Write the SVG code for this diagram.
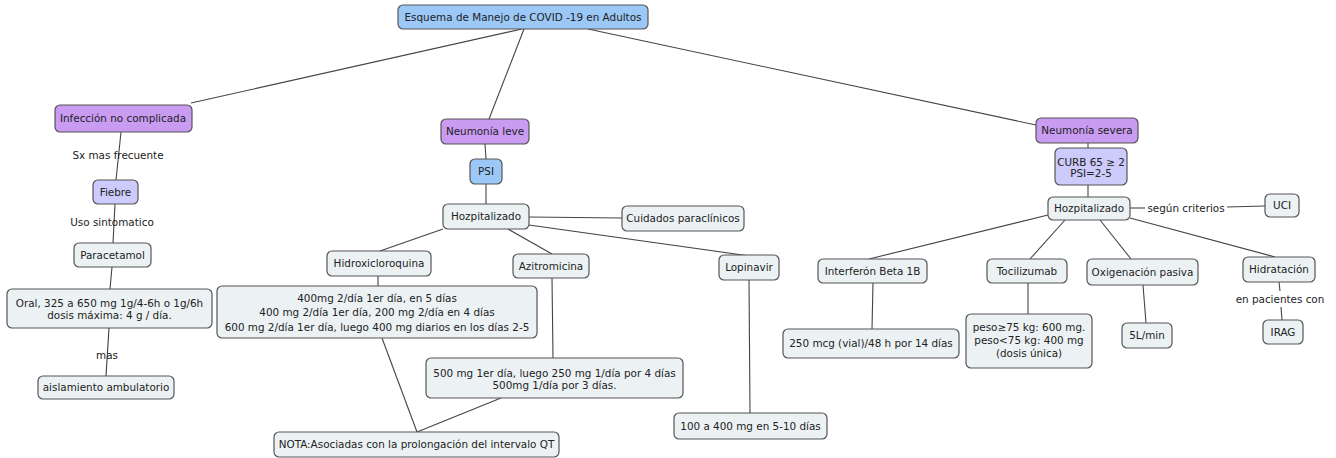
<svg xmlns="http://www.w3.org/2000/svg" width="1336" height="458" viewBox="0 0 1336 458">
<style>
rect{stroke:#555;stroke-width:1.2;rx:5;ry:5}
.w{fill:#ecf2f4}
.p{fill:#c99cf2}
.l{fill:#cccbfc}
.b{fill:#9cc8f7}
text{font-family:"DejaVu Sans",Verdana,sans-serif;font-size:10.4px;fill:#222;text-anchor:middle}
#connectors line{stroke:#444;stroke-width:1.1}
</style>
<rect x="0" y="0" width="1336" height="458" style="fill:#fff;stroke:none"/>
<g id="connectors">
<line x1="522" y1="29" x2="191" y2="103"/>
<line x1="524" y1="29" x2="489" y2="119"/>
<line x1="588" y1="29" x2="1036" y2="125"/>
<line x1="121" y1="132" x2="116" y2="180"/>
<line x1="115" y1="204" x2="113" y2="243"/>
<line x1="112" y1="267" x2="110" y2="289"/>
<line x1="109" y1="328" x2="106" y2="376"/>
<line x1="485" y1="144" x2="486" y2="159"/>
<line x1="486" y1="184" x2="486" y2="204"/>
<line x1="529" y1="217" x2="622" y2="218"/>
<line x1="529" y1="225" x2="750" y2="256"/>
<line x1="443" y1="229" x2="380" y2="251"/>
<line x1="508" y1="229" x2="552" y2="254"/>
<line x1="378" y1="276" x2="378" y2="286"/>
<line x1="552" y1="278" x2="553" y2="358"/>
<line x1="382" y1="338" x2="417" y2="432"/>
<line x1="501" y1="398" x2="417" y2="432"/>
<line x1="749" y1="280" x2="750" y2="413"/>
<line x1="1088" y1="143" x2="1088" y2="148"/>
<line x1="1088" y1="185" x2="1088" y2="197"/>
<line x1="1130" y1="208" x2="1145" y2="208"/>
<line x1="1227" y1="207" x2="1265" y2="206"/>
<line x1="1048" y1="215" x2="869" y2="259"/>
<line x1="1065" y1="220" x2="1030" y2="259"/>
<line x1="1100" y1="220" x2="1131" y2="259"/>
<line x1="1130" y1="218" x2="1275" y2="257"/>
<line x1="873" y1="283" x2="872" y2="329"/>
<line x1="1028" y1="283" x2="1028" y2="314"/>
<line x1="1143" y1="285" x2="1146" y2="323"/>
<line x1="1279" y1="282" x2="1280" y2="291"/>
<line x1="1281" y1="307" x2="1282" y2="320"/>
</g>
<g id="labels">
<text x="118" y="159">Sx mas frecuente</text>
<text x="112" y="226">Uso sintomatico</text>
<text x="107" y="359">mas</text>
<text x="1186" y="212">según criterios</text>
<text x="1280" y="303">en pacientes con</text>
</g>
<g id="root"><rect class="b" x="398" y="5" width="250" height="24"/><text x="523" y="20.5">Esquema de Manejo de COVID -19 en Adultos</text></g>
<g id="infeccion"><rect class="p" x="55" y="105" width="137" height="27"/><text x="123" y="122">Infección no complicada</text></g>
<g id="fiebre"><rect class="l" x="93" y="180" width="45" height="24"/><text x="115.5" y="195.5">Fiebre</text></g>
<g id="paracetamol"><rect class="w" x="74" y="243" width="77" height="24"/><text x="112.5" y="258.5">Paracetamol</text></g>
<g id="oral"><rect class="w" x="7" y="289" width="205" height="39"/><text x="109.5" y="306.5">Oral, 325 a 650 mg 1g/4-6h o 1g/6h</text><text x="109.5" y="318.5">dosis máxima: 4 g / día.</text></g>
<g id="aislamiento"><rect class="w" x="38" y="376" width="136" height="23"/><text x="106" y="391">aislamiento ambulatorio</text></g>
<g id="neumonia-leve"><rect class="p" x="441" y="119" width="88" height="25"/><text x="485" y="135">Neumonía leve</text></g>
<g id="psi"><rect class="b" x="470" y="159" width="32" height="25"/><text x="486" y="175">PSI</text></g>
<g id="hozp-leve"><rect class="w" x="443" y="204" width="86" height="25"/><text x="486" y="220">Hozpitalizado</text></g>
<g id="cuidados"><rect class="w" x="622" y="206" width="122" height="25"/><text x="683" y="222">Cuidados paraclínicos</text></g>
<g id="hidroxi"><rect class="w" x="327" y="251" width="104" height="25"/><text x="379" y="267">Hidroxicloroquina</text></g>
<g id="azitro"><rect class="w" x="513" y="254" width="76" height="24"/><text x="551" y="269.5">Azitromicina</text></g>
<g id="hidroxi-dosis"><rect class="w" x="217" y="286" width="320" height="52"/><text x="377" y="301.5">400mg 2/día 1er día, en 5 días</text><text x="377" y="316">400 mg 2/día 1er día, 200 mg 2/día en 4 días</text><text x="377" y="330.5">600 mg 2/día 1er día, luego 400 mg diarios en los días 2-5</text></g>
<g id="azitro-dosis"><rect class="w" x="426" y="358" width="257" height="40"/><text x="554.5" y="376.5">500 mg 1er día, luego 250 mg 1/día por 4 días</text><text x="554.5" y="388.5">500mg 1/día por 3 días.</text></g>
<g id="nota"><rect class="w" x="274" y="432" width="285" height="25"/><text x="416.5" y="448">NOTA:Asociadas con la prolongación del intervalo QT</text></g>
<g id="lopinavir"><rect class="w" x="719" y="255" width="60" height="25"/><text x="749" y="271">Lopinavir</text></g>
<g id="lopinavir-dosis"><rect class="w" x="674" y="413" width="153" height="26"/><text x="750.5" y="429.5">100 a 400 mg en 5-10 días</text></g>
<g id="neumonia-severa"><rect class="p" x="1036" y="118" width="102" height="25"/><text x="1087" y="134">Neumonía severa</text></g>
<g id="curb"><rect class="l" x="1055" y="148" width="72" height="37"/><text x="1091" y="165.5">CURB 65 ≥ 2</text><text x="1091" y="177">PSI=2-5</text></g>
<g id="hozp-severa"><rect class="w" x="1048" y="197" width="82" height="23"/><text x="1089" y="212">Hozpitalizado</text></g>
<g id="uci"><rect class="w" x="1265" y="194" width="34" height="23"/><text x="1282" y="209">UCI</text></g>
<g id="interferon"><rect class="w" x="818" y="259" width="109" height="24"/><text x="872.5" y="274.5">Interferón Beta 1B</text></g>
<g id="interferon-dosis"><rect class="w" x="783" y="329" width="176" height="29"/><text x="871" y="347">250 mcg (vial)/48 h por 14 días</text></g>
<g id="tocilizumab"><rect class="w" x="987" y="259" width="80" height="24"/><text x="1027" y="274.5">Tocilizumab</text></g>
<g id="tocilizumab-dosis"><rect class="w" x="966" y="314" width="126" height="54"/><text x="1029" y="330.5">peso≥75 kg: 600 mg.</text><text x="1029" y="343.5">peso&lt;75 kg: 400 mg</text><text x="1029" y="356.5">(dosis única)</text></g>
<g id="oxigenacion"><rect class="w" x="1087" y="259" width="111" height="26"/><text x="1142.5" y="275.5">Oxigenación pasiva</text></g>
<g id="oxigenacion-dosis"><rect class="w" x="1122" y="323" width="50" height="25"/><text x="1147" y="339">5L/min</text></g>
<g id="hidratacion"><rect class="w" x="1243" y="257" width="72" height="25"/><text x="1279" y="273">Hidratación</text></g>
<g id="irag"><rect class="w" x="1263" y="320" width="40" height="24"/><text x="1283" y="335.5">IRAG</text></g>
</svg>
